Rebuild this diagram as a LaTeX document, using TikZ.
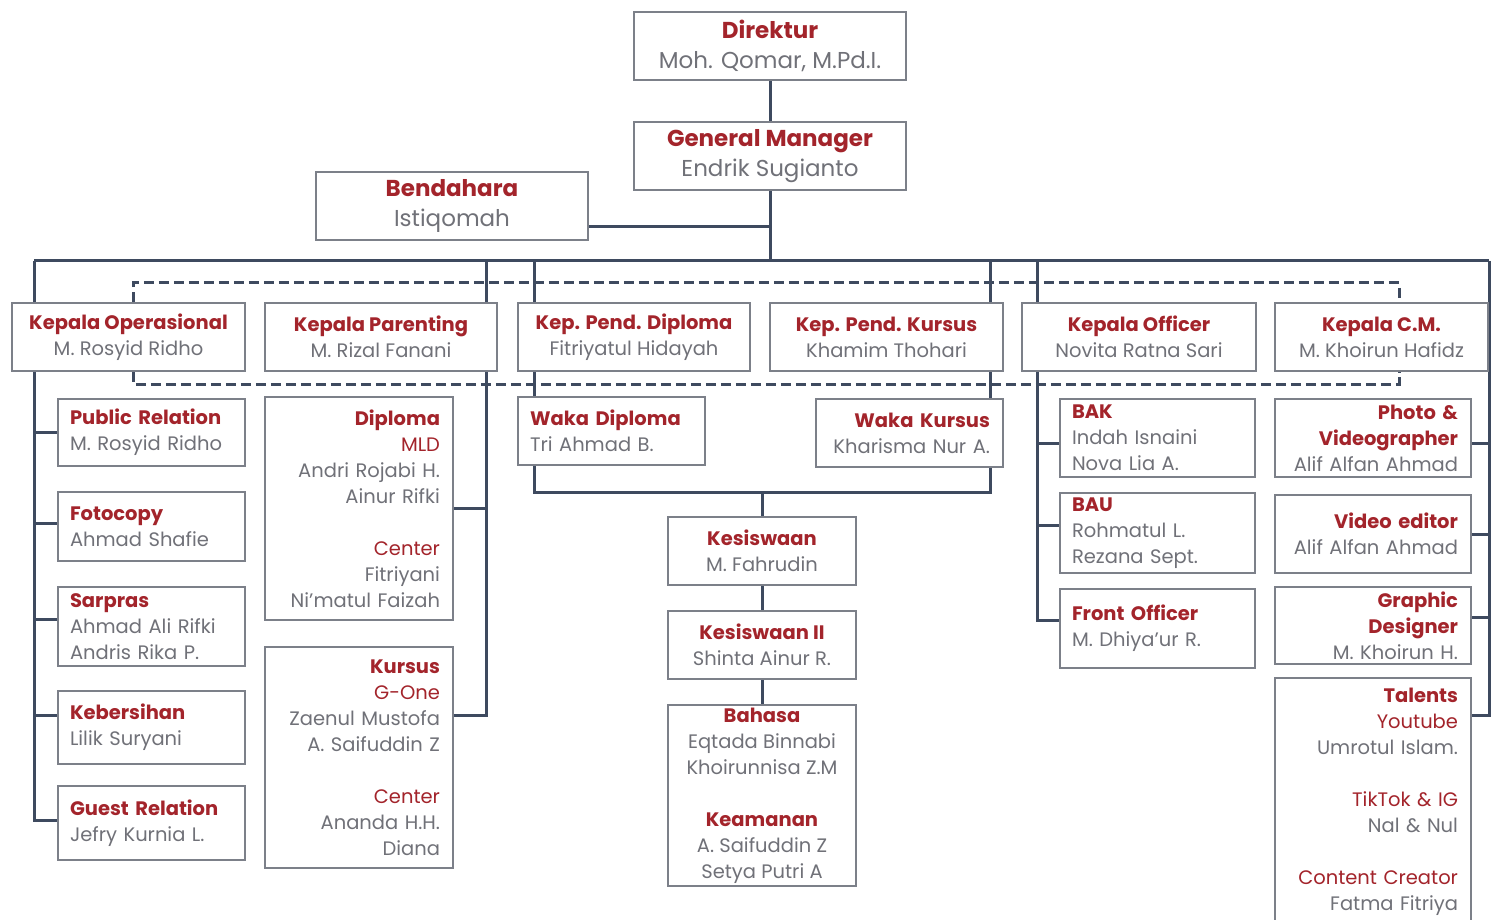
\documentclass[tikz,border=0pt]{standalone}
\usepackage{fontspec}
\setmainfont{Poppins}
\usepackage{xcolor}
\usepackage{tikz}
\usetikzlibrary{positioning,calc,backgrounds}
\definecolor{titlered}{HTML}{A3242B}
\definecolor{namegray}{HTML}{707178}
\definecolor{framegray}{HTML}{7C8089}
\definecolor{linecolor}{HTML}{3E4A5F}
\newcommand{\hd}[1]{{\bfseries\color{titlered}#1}}
\newcommand{\rd}[1]{{\color{titlered}#1}}

\begin{document}
\begin{tikzpicture}[
    x=1pt, y=-1pt,
    every node/.style={text=namegray, inner ysep=0pt},
    unitbox/.style={draw=framegray, fill=white, line width=1.8pt, inner xsep=12pt, font=\fontsize{19.5}{26}\selectfont},
    topbox/.style={unitbox, font=\fontsize{23}{30}\selectfont, align=center, minimum width=272pt, minimum height=68pt},
    headbox/.style={unitbox, align=center, minimum height=68pt},
    conn/.style={draw=linecolor, line width=3pt},
    dconn/.style={draw=linecolor, line width=3pt, dash pattern=on 10pt off 5pt}
]
    \useasboundingbox (0,0) rectangle (1492,920);
    \clip (0,0) rectangle (1492,920);

    % Top level
    \node[topbox] (dir) at (770,46) {\hd{Direktur}\\ Moh. Qomar, M.Pd.I.};
    \node[topbox] (gm) at (770,156) {\hd{General Manager}\\ Endrik Sugianto};
    \node[topbox] (bend) at (452,206) {\hd{Bendahara}\\ Istiqomah};

    % Heads of division
    \node[headbox, minimum width=233pt] (ko) at (128.5,337) {\hd{Kepala Operasional}\\ M. Rosyid Ridho};
    \node[headbox, minimum width=232pt] (kp) at (381,337) {\hd{Kepala Parenting}\\ M. Rizal Fanani};
    \node[headbox, minimum width=232pt] (kpd) at (634,337) {\hd{Kep. Pend. Diploma}\\ Fitriyatul Hidayah};
    \node[headbox, minimum width=233pt] (kpk) at (886.5,337) {\hd{Kep. Pend. Kursus}\\ Khamim Thohari};
    \node[headbox, minimum width=234pt] (kof) at (1139,337) {\hd{Kepala Officer}\\ Novita Ratna Sari};
    \node[headbox, minimum width=213pt] (kcm) at (1381.5,337) {\hd{Kepala C.M.}\\ M. Khoirun Hafidz};

    % Operasional
    \node[unitbox, align=left, text width=163pt, minimum height=67pt] (pr) at (151.5,432.5) {\hd{Public Relation}\\ M. Rosyid Ridho};
    \node[unitbox, align=left, text width=163pt, minimum height=69pt] (foto) at (151.5,526.5) {\hd{Fotocopy}\\ Ahmad Shafie};
    \node[unitbox, align=left, text width=163pt, minimum height=79pt] (sarpras) at (151.5,626.5) {\hd{Sarpras}\\ Ahmad Ali Rifki\\ Andris Rika P.};
    \node[unitbox, align=left, text width=163pt, minimum height=73pt] (keb) at (151.5,727.5) {\hd{Kebersihan}\\ Lilik Suryani};
    \node[unitbox, align=left, text width=163pt, minimum height=74pt] (gr) at (151.5,823) {\hd{Guest Relation}\\ Jefry Kurnia L.};

    % Parenting
    \node[unitbox, align=right, inner xsep=13pt, text width=162pt, minimum height=223pt] (dipl) at (359,508.5) {
        \hd{Diploma}\\ \rd{MLD}\\ Andri Rojabi H.\\ Ainur Rifki\\[26pt]
        \rd{Center}\\ Fitriyani\\ Ni'matul Faizah
    };
    \node[unitbox, align=right, inner xsep=13pt, text width=162pt, minimum height=221pt] (kursus) at (359,757.5) {
        \hd{Kursus}\\ \rd{G-One}\\ Zaenul Mustofa\\ A. Saifuddin Z\\[26pt]
        \rd{Center}\\ Ananda H.H.\\ Diana
    };

    % Pendidikan
    \node[unitbox, align=left, text width=163pt, minimum height=68pt] (wd) at (611.5,431) {\hd{Waka Diploma}\\ Tri Ahmad B.};
    \node[unitbox, align=right, inner xsep=13pt, text width=161pt, minimum height=68pt] (wk) at (909.5,433) {\hd{Waka Kursus}\\ Kharisma Nur A.};
    \node[headbox, minimum width=188pt] (kes) at (762,551) {\hd{Kesiswaan}\\ M. Fahrudin};
    \node[headbox, minimum width=188pt] (kes2) at (762,645) {\hd{Kesiswaan II}\\ Shinta Ainur R.};
    \node[headbox, minimum width=188pt, minimum height=181pt] (bhs) at (762,795.5) {
        \hd{Bahasa}\\ Eqtada Binnabi\\ Khoirunnisa Z.M\\[26pt]
        \hd{Keamanan}\\ A. Saifuddin Z\\ Setya Putri A
    };

    % Officer
    \node[unitbox, align=left, text width=171pt, minimum height=78pt] (bak) at (1157.5,438) {\hd{BAK}\\ Indah Isnaini\\ Nova Lia A.};
    \node[unitbox, align=left, text width=171pt, minimum height=80pt] (bau) at (1157.5,533) {\hd{BAU}\\ Rohmatul L.\\ Rezana Sept.};
    \node[unitbox, align=left, text width=171pt, minimum height=79pt] (fo) at (1157.5,628.5) {\hd{Front Officer}\\ M. Dhiya'ur R.};

    % C.M.
    \node[unitbox, align=right, inner xsep=13pt, text width=170pt, minimum height=78pt] (pv) at (1373,438) {\hd{Photo \&}\\ \hd{Videographer}\\ Alif Alfan Ahmad};
    \node[unitbox, align=right, inner xsep=13pt, text width=170pt, minimum height=78pt] (ve) at (1373,534) {\hd{Video editor}\\ Alif Alfan Ahmad};
    \node[unitbox, align=right, inner xsep=13pt, text width=170pt, minimum height=77pt] (gd) at (1373,625.5) {\hd{Graphic}\\ \hd{Designer}\\ M. Khoirun H.};
    \node[unitbox, align=right, inner xsep=13pt, text width=170pt, minimum height=248pt] (tal) at (1373,802) {
        \hd{Talents}\\ \rd{Youtube}\\ Umrotul Islam.\\[26pt]
        \rd{TikTok \& IG}\\ Nal \& Nul\\[26pt]
        \rd{Content Creator}\\ Fatma Fitriya
    };

    % Bus points
    \coordinate (busL) at (34,261);
    \coordinate (busR) at (1489,261);
    \coordinate (dKP) at (486,261);
    \coordinate (dKPD) at (534,261);
    \coordinate (dKPK) at (990,261);
    \coordinate (dKOF) at (1037,261);
    \coordinate (wjoin) at (762,492);
    \coordinate (dashTL) at (133,283);
    \coordinate (dashTR) at (1399,283);
    \coordinate (dashBL) at (133,384);
    \coordinate (dashBR) at (1399,384);

    \begin{scope}[on background layer]
        \fill[white] (0,0) rectangle (1492,920);
        % Coordination (dashed)
        \draw[dconn] (ko.north -| dashTL) -- (dashTL) -- (dashTR) -- (kcm.north -| dashTR);
        \draw[dconn] (ko.south -| dashBL) -- (dashBL) -- (dashBR) -- (kcm.south -| dashBR);

        % Top chain
        \draw[conn] (dir) -- (gm);
        \draw[conn] (gm) -- (gm |- busL);
        \draw[conn] ([yshift=-21pt]bend.east) -- ([yshift=-21pt]bend.east -| gm);
        \draw[conn] (busL) -- (busR);

        % Operasional
        \draw[conn] (busL) |- ([yshift=3pt]gr.west);
        \draw[conn] (pr.west) -- (pr.west -| busL);
        \draw[conn] ([yshift=3pt]foto.west) -- ([yshift=3pt]foto.west -| busL);
        \draw[conn] ([yshift=7pt]sarpras.west) -- ([yshift=7pt]sarpras.west -| busL);
        \draw[conn] ([yshift=12pt]keb.west) -- ([yshift=12pt]keb.west -| busL);

        % Parenting
        \draw[conn] (dKP) |- ([yshift=42pt]kursus.east);
        \draw[conn] (dipl.east) -- (dipl.east -| dKP);

        % Pendidikan
        \draw[conn] (dKPD) |- (wjoin) -| (dKPK);
        \draw[conn] (wjoin) -- (kes);
        \draw[conn] (kes) -- (kes2) -- (bhs);

        % Officer
        \draw[conn] (dKOF) |- ([yshift=8.5pt]fo.west);
        \draw[conn] ([yshift=-5pt]bak.west) -- ([yshift=-5pt]bak.west -| dKOF);
        \draw[conn] ([yshift=8pt]bau.west) -- ([yshift=8pt]bau.west -| dKOF);

        % C.M.
        \draw[conn] (busR) |- ([yshift=87pt]tal.east);
        \draw[conn] ([yshift=-5pt]pv.east) -- ([yshift=-5pt]pv.east -| busR);
        \draw[conn] (ve.east) -- (ve.east -| busR);
        \draw[conn] ([yshift=8.5pt]gd.east) -- ([yshift=8.5pt]gd.east -| busR);
    \end{scope}
\end{tikzpicture}
\end{document}
